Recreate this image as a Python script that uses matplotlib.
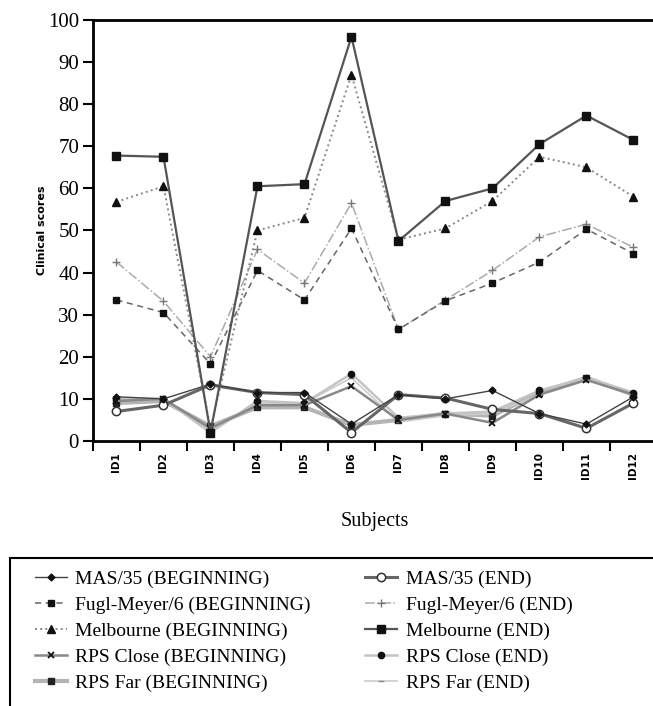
import matplotlib.pyplot as plt
from matplotlib.patches import Rectangle

subjects = ["ID1", "ID2", "ID3", "ID4", "ID5", "ID6", "ID7", "ID8", "ID9", "ID10", "ID11", "ID12"]

mas_beg = [10.5, 10.0, 13.5, 11.5, 11.5, 4.0, 11.0, 10.0, 12.0, 6.5, 4.0, 10.5]
fm_beg = [33.5, 30.5, 18.3, 40.5, 33.5, 50.5, 26.5, 33.3, 37.5, 42.5, 50.3, 44.5]
melb_beg = [56.8, 60.5, 3.0, 50.0, 53.0, 87.0, 47.8, 50.5, 57.0, 67.5, 65.0, 58.0]
rps_close_beg = [9.5, 10.0, 3.0, 8.5, 8.5, 13.0, 5.0, 6.5, 4.3, 11.0, 14.5, 11.0]
rps_far_beg = [9.0, 9.5, 3.5, 8.0, 8.0, 3.8, 5.0, 6.5, 6.0, 11.5, 15.0, 11.0]

mas_end = [7.0, 8.5, 13.3, 11.5, 11.0, 2.0, 11.0, 10.2, 7.5, 6.5, 3.0, 9.0]
fm_end = [42.5, 33.2, 20.0, 45.5, 37.5, 56.5, 26.5, 33.5, 40.5, 48.5, 51.5, 46.0]
melb_end = [67.8, 67.5, 2.0, 60.5, 61.0, 96.0, 47.5, 57.0, 60.0, 70.5, 77.3, 71.5]
rps_close_end = [10.0, 10.0, 2.0, 9.5, 9.0, 16.0, 5.5, 6.5, 7.0, 12.0, 15.0, 11.5]
rps_far_end = [9.5, 10.0, 2.5, 9.0, 9.0, 15.0, 4.5, 6.0, 6.5, 11.0, 14.5, 11.0]

serif = ["Liberation Serif", "DejaVu Serif"]

fig = plt.figure(figsize=(6.53, 7.06), dpi=100)
ax = fig.add_axes([0.1424, 0.3754, 0.8637, 0.5963])

x = list(range(1, 13))

ax.plot(x, rps_far_beg, color="#b5b5b5", lw=3.0, marker="s", ms=4, mfc="#222", mec="#222", label="RPS Far (BEGINNING)")
ax.plot(x, rps_far_end, color="#cccccc", lw=1.2, marker="_", ms=5, mec="#888", label="RPS Far (END)")
ax.plot(x, rps_close_end, color="#c4c4c4", lw=1.8, marker="o", ms=4.5, mfc="#111", mec="#111", label="RPS Close (END)")
ax.plot(x, rps_close_beg, color="#888", lw=1.8, marker="x", ms=5, mew=1.3, mec="#111", label="RPS Close (BEGINNING)")
ax.plot(x, mas_end, color="#666", lw=2.2, marker="o", ms=6, mfc="white", mec="#333", mew=1.1, label="MAS/35 (END)")
ax.plot(x, mas_beg, color="#444", lw=1.0, marker="D", ms=3.5, mfc="#111", mec="#111", label="MAS/35 (BEGINNING)")
ax.plot(x, fm_end, color="#aaa", lw=1.1, ls="-.", marker="+", ms=6, mew=1.0, mec="#777", label="Fugl-Meyer/6 (END)")
ax.plot(x, fm_beg, color="#666", lw=1.1, ls=(0, (4, 3)), marker="s", ms=5, mfc="#111", mec="#111", label="Fugl-Meyer/6 (BEGINNING)")
ax.plot(x, melb_beg, color="#888", lw=1.4, ls=":", marker="^", ms=6, mfc="#111", mec="#111", label="Melbourne (BEGINNING)")
ax.plot(x, melb_end, color="#555", lw=1.6, marker="s", ms=5.5, mfc="#111", mec="#111", label="Melbourne (END)")

ax.set_xlim(0.5, 12.5)
ax.set_ylim(0, 100)
ax.set_yticks(range(0, 101, 10))
ax.set_xticks([i + 0.5 for i in range(0, 13)])
ax.set_xticklabels([])
ax.set_xticks(x, minor=True)
ax.set_xticklabels(subjects, minor=True, rotation=90, fontsize=7.5, fontweight="bold", family="DejaVu Sans")
ax.tick_params(axis="x", which="minor", length=0, pad=8)
ax.tick_params(axis="x", which="major", direction="out", length=7, width=1.5)
ax.tick_params(axis="y", direction="out", length=7, width=1.5, labelsize=15, pad=3)
for lbl in ax.get_yticklabels():
    lbl.set_family(serif)

for side in ("left", "bottom", "top"):
    ax.spines[side].set_linewidth(2)
ax.spines["right"].set_visible(False)

ax.set_xlabel("Subjects", family=serif, fontsize=14.5, labelpad=24)
ax.set_ylabel("Clinical scores", fontsize=8, fontweight="bold", family="DejaVu Sans")
ax.yaxis.set_label_coords(-0.082, 0.5)

# legend box with the entries in two columns
fig.patches.append(Rectangle((10 / 653, -0.05), 1.0, 1 - 558 / 706 + 0.05,
                             transform=fig.transFigure, fill=False, lw=1.5, ec="black"))

order = ["MAS/35 (BEGINNING)", "Fugl-Meyer/6 (BEGINNING)", "Melbourne (BEGINNING)",
         "RPS Close (BEGINNING)", "RPS Far (BEGINNING)",
         "MAS/35 (END)", "Fugl-Meyer/6 (END)", "Melbourne (END)",
         "RPS Close (END)", "RPS Far (END)"]
handles, labels = ax.get_legend_handles_labels()
lookup = dict(zip(labels, handles))
fig.legend([lookup[k] for k in order], order, ncol=2, frameon=False,
           loc="upper left", bbox_to_anchor=(17 / 653, 1 - 553 / 706),
           prop={"family": serif, "size": 14}, handlelength=1.65,
           handletextpad=0.45, columnspacing=2.8, labelspacing=0.42,
           borderpad=0.4)

fig.savefig("out.png", dpi=100)
